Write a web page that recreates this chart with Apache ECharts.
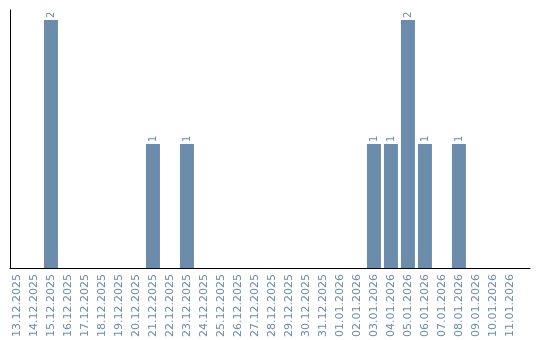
<!DOCTYPE html>
<html>
<head>
<meta charset="utf-8">
<script src="https://cdn.jsdelivr.net/npm/echarts@6/dist/echarts.min.js"></script>
<style>
  html, body { margin: 0; padding: 0; background: #fff; }
  #chart { width: 540px; height: 340px; }
</style>
</head>
<body>
<div id="chart"></div>
<script>
// dias y cantidades
var dias = ['13.12.2025','14.12.2025','15.12.2025','16.12.2025','17.12.2025','18.12.2025',
    '19.12.2025','20.12.2025','21.12.2025','22.12.2025','23.12.2025','24.12.2025',
    '25.12.2025','26.12.2025','27.12.2025','28.12.2025','29.12.2025','30.12.2025',
    '31.12.2025','01.01.2026','02.01.2026','03.01.2026','04.01.2026','05.01.2026',
    '06.01.2026','07.01.2026','08.01.2026','09.01.2026','10.01.2026','11.01.2026'];
var cantidades = [0,0,2,0,0,0,0,0,1,0,1,0,0,0,0,0,0,0,0,0,0,1,1,2,1,0,1,0,0,0];

var colorBarra = '#6b8cab';

var indices = [];
var datos = [];
for (var i = 0; i < dias.length; i++) {
    indices.push(i);
    datos.push([i, cantidades[i]]);
}

var myChart = echarts.init(document.getElementById('chart'));
var option = {
    animation: false,
    grid: { left: 10, right: 10, top: 10, bottom: 70 },
    xAxis: {
        type: 'value',
        min: -0.41,
        max: 30.18,
        axisLine: { show: true, onZero: false, lineStyle: { color: '#000', width: 1 } },
        axisTick: { show: false },
        splitLine: { show: false },
        axisLabel: {
            customValues: indices,
            rotate: 90,
            color: colorBarra,
            fontSize: 11,
            fontFamily: 'DejaVu Sans',
            margin: 6,
            formatter: function (v) { return dias[Math.round(v)]; }
        }
    },
    yAxis: {
        type: 'value',
        min: 0,
        max: 2.08,
        axisLine: { show: true, onZero: false, lineStyle: { color: '#000', width: 1 } },
        axisTick: { show: false },
        axisLabel: { show: false },
        splitLine: { show: false }
    },
    series: [{
        type: 'bar',
        data: datos,
        barWidth: 14,
        itemStyle: { color: colorBarra },
        label: {
            show: true,
            position: 'top',
            rotate: 90,
            align: 'left',
            verticalAlign: 'middle',
            distance: 2,
            color: colorBarra,
            fontSize: 10,
            fontFamily: 'DejaVu Sans',
            formatter: function (p) { return p.value[1] ? String(p.value[1]) : ''; }
        }
    }]
};
myChart.setOption(option);
</script>
</body>
</html>
